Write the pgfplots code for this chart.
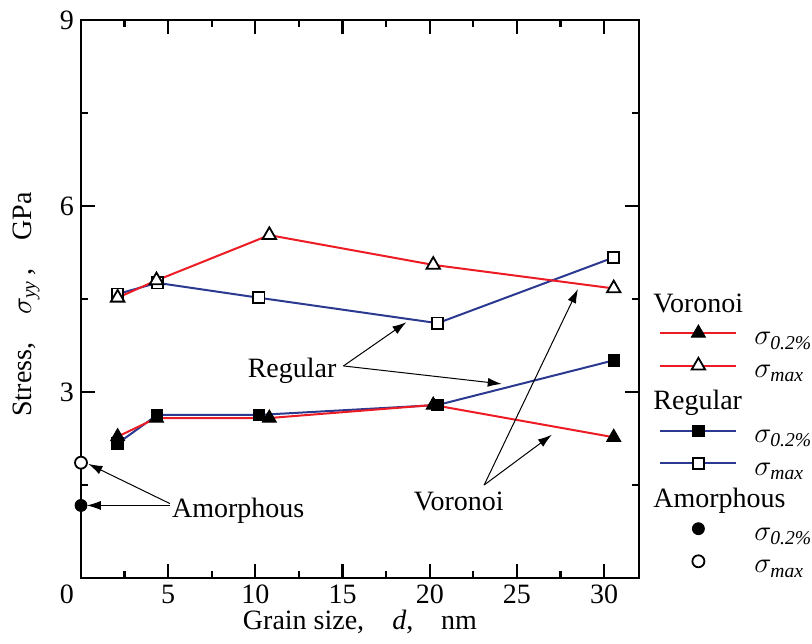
\documentclass[border=0pt]{standalone}
\usepackage{amsmath}
\usepackage{fontspec}
\setmainfont{Liberation Serif}
\usepackage{pgfplots}
\pgfplotsset{compat=1.18}
\usetikzlibrary{calc,arrows.meta}
\definecolor{vred}{RGB}{237,28,36}
\definecolor{rblue}{RGB}{43,57,144}
\newcommand{\fs}{\fontsize{14}{16}\selectfont}
\newcommand{\head}[1]{\makebox[0pt][l]{\hspace*{-51pt}#1}}
\begin{document}
\begin{tikzpicture}
\begin{axis}[
  scale only axis, width=279pt, height=279pt,
  xmin=0, xmax=32, ymin=0, ymax=9,
  xtick={5,10,...,30}, ytick={3,6,9},
  minor xtick={2.5,7.5,...,27.5}, minor ytick={1.5,4.5,7.5},
  tick align=inside, major tick length=7pt, minor tick length=3.5pt,
  every tick/.style={black, line width=1.1pt},
  axis line style={line width=1.2pt},
  /pgf/number format/assume math mode=true,
  tick label style={font=\fs},
  label style={font=\fs},
  xlabel={Grain size,\quad\textit{d},\quad nm},
  ylabel={Stress,\quad$\sigma_{\textit{yy}}$\,,\quad GPa},
  xlabel style={at={(axis description cs:0.5,-0.093)}, anchor=base},
  ylabel style={at={(axis description cs:-0.0896,0.49)}, anchor=base},
  clip=false,
  legend image code/.code={\draw[mark repeat=2,mark phase=2,#1] plot coordinates {(0pt,3pt) (19pt,3pt) (38pt,3pt)};},
  legend style={at={(axis description cs:1,0)}, anchor=south west, xshift=10pt, yshift=-3pt,
    draw=none, fill=none, inner sep=0pt, row sep=0pt, column sep=8.5pt,
    font=\fs, cells={anchor=west},
    nodes={inner sep=0pt, text height=11pt, text depth=5.3pt}},
]
% Regular
\addplot[forget plot, rblue, line width=1pt, mark=square*, mark size=2.8pt,
  mark options={solid, fill=black, draw=black, line width=0.6pt}]
  coordinates {(2.1,2.17) (4.37,2.63) (10.2,2.63) (20.45,2.79) (30.55,3.51)};
\addplot[forget plot, rblue, line width=1pt, mark=square*, mark size=2.8pt,
  mark options={solid, fill=white, draw=black, line width=0.9pt}]
  coordinates {(2.1,4.58) (4.37,4.76) (10.2,4.52) (20.45,4.11) (30.55,5.17)};
% Voronoi
\addplot[forget plot, vred, line width=1pt, mark=triangle*, mark size=4pt,
  mark options={solid, fill=black, draw=black, line width=0.5pt}]
  coordinates {(2.1,2.28) (4.33,2.58) (10.8,2.58) (20.2,2.79) (30.55,2.27)};
\addplot[forget plot, vred, line width=1pt, mark=triangle*, mark size=3.9pt,
  mark options={solid, fill=white, draw=black, line width=0.9pt}]
  coordinates {(2.1,4.52) (4.33,4.8) (10.8,5.53) (20.2,5.05) (30.55,4.67)};
% Amorphous
\addplot[forget plot, only marks, mark=*, mark size=3pt,
  mark options={fill=black, draw=black}]
  coordinates {(0,1.17)};
\addplot[forget plot, only marks, mark=*, mark size=3pt,
  mark options={fill=white, draw=black, line width=0.9pt}]
  coordinates {(0,1.86)};

% legend
\addlegendimage{empty legend}
\addlegendentry{\head{Voronoi}}
\addlegendimage{vred, line width=1pt, mark=triangle*, mark size=4pt, mark options={solid, fill=black, draw=black, line width=0.5pt}}
\addlegendentry{$\sigma_{\textit{0.2\%}}$}
\addlegendimage{vred, line width=1pt, mark=triangle*, mark size=3.9pt, mark options={solid, fill=white, draw=black, line width=0.9pt}}
\addlegendentry{$\sigma_{\textit{max}}$}
\addlegendimage{empty legend}
\addlegendentry{\head{Regular}}
\addlegendimage{rblue, line width=1pt, mark=square*, mark size=2.8pt, mark options={solid, fill=black, draw=black, line width=0.6pt}}
\addlegendentry{$\sigma_{\textit{0.2\%}}$}
\addlegendimage{rblue, line width=1pt, mark=square*, mark size=2.8pt, mark options={solid, fill=white, draw=black, line width=0.9pt}}
\addlegendentry{$\sigma_{\textit{max}}$}
\addlegendimage{empty legend}
\addlegendentry{\head{Amorphous}}
\addlegendimage{/tikz/only marks, mark=*, mark size=3pt, mark options={fill=black, draw=black}}
\addlegendentry{$\sigma_{\textit{0.2\%}}$}
\addlegendimage{/tikz/only marks, mark=*, mark size=3pt, mark options={fill=white, draw=black, line width=0.9pt}}
\addlegendentry{$\sigma_{\textit{max}}$}

% annotations
\node[anchor=north east, inner sep=0.333em, font=\fs] at (axis description cs:0,0) {0};
\node[anchor=base west, inner sep=0pt, font=\fs] at (axis cs:9.54,3.23) {Regular};
\draw[line width=0.5pt, -{Latex[length=7pt,width=4.5pt]}] (axis cs:15.05,3.42) -- (axis cs:18.66,4.125);
\draw[line width=0.5pt, -{Latex[length=7pt,width=4.5pt]}] (axis cs:15.05,3.42) -- (axis cs:24.13,3.13);
\node[anchor=base west, inner sep=0pt, font=\fs] at (axis cs:19.07,1.085) {Voronoi};
\draw[line width=0.5pt, -{Latex[length=7pt,width=4.5pt]}] (axis cs:23.12,1.5) -- (axis cs:28.5,4.66);
\draw[line width=0.5pt, -{Latex[length=7pt,width=4.5pt]}] (axis cs:23.12,1.5) -- (axis cs:27.0,2.31);
\node[anchor=base west, inner sep=0pt, font=\fs] at (axis cs:5.2,0.98) {Amorphous};
\draw[line width=0.5pt, -{Latex[length=7pt,width=4.5pt]}] (axis cs:5.1,1.2) -- (axis cs:0.42,1.84);
\draw[line width=0.5pt, -{Latex[length=7pt,width=4.5pt]}] (axis cs:5.1,1.17) -- (axis cs:0.33,1.17);
\end{axis}
\pgfresetboundingbox
\path[use as bounding box] ($(current axis.south west)+(-40.5pt,-33pt)$) rectangle ($(current axis.north east)+(86.5pt,10pt)$);
\end{tikzpicture}
\end{document}
